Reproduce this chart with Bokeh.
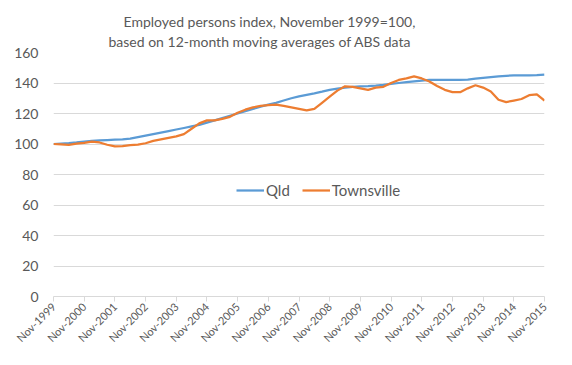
import math
from bokeh.plotting import figure
from bokeh.models import FixedTicker, Range1d, Title, Legend, LegendItem
from bokeh.embed import file_html
from bokeh.resources import INLINE

# months since Nov-1999 (quarterly samples)
months = list(range(0, 193, 3))
qld = [100, 100.3, 100.6, 101, 101.5, 102, 102.3, 102.6, 102.8, 103, 103.5, 104.5,
       105.5, 106.5, 107.5, 108.5, 109.5, 110.5, 111.5, 112.5, 114, 115.5, 117, 118.5,
       120, 121.5, 123, 124.5, 125.8, 127, 128.5, 130, 131.2, 132.2, 133.2, 134.3,
       135.5, 136.3, 137, 137.5, 137.8, 138, 138.3, 138.8, 139.5, 140, 140.5, 141,
       141.5, 142, 142, 142, 142, 142, 142.2, 142.8, 143.3, 143.8, 144.3, 144.7,
       145, 145, 145, 145.1, 145.5]
townsville = [100, 99.8, 99.4, 100.2, 100.8, 101.5, 101, 99.5, 98.5, 98.6, 99.3, 99.6,
              100.5, 102, 103, 104, 105, 106.5, 110, 113.5, 115.5, 115.5, 116.5, 117.8,
              120.5, 122.5, 124, 125, 125.5, 125.8, 125, 124, 123, 122, 123, 127,
              131, 135, 137.8, 137.5, 136.5, 135.5, 137, 137.5, 140, 142, 143, 144.3,
              143, 141, 138, 135.5, 134, 134, 136.5, 138.5, 137, 134.5, 129, 127.5,
              128.5, 129.5, 132, 132.5, 128.5]
tick_months = list(range(0, 193, 12))
tick_labels = ["Nov-%d" % y for y in range(1999, 2016)]
y_ticks = list(range(0, 161, 20))
title_lines = ["Employed persons index, November 1999=100,",
               "based on 12-month moving averages of ABS data"]
series_names = ["Qld", "Townsville"]

FONT = "Lato"
GREY = "#595959"
GRID = "#D9D9D9"

p = figure(width=570, height=362, output_backend="svg", toolbar_location=None,
           x_range=Range1d(0, 192), y_range=Range1d(0, 160),
           min_border_left=53, min_border_right=26, min_border_top=52,
           min_border_bottom=66)
p.outline_line_color = None
p.background_fill_color = "white"

r1 = p.line(months, qld, line_color="#5B9BD5", line_width=2.25)
r2 = p.line(months, townsville, line_color="#ED7D31", line_width=2.25)

p.xaxis.ticker = FixedTicker(ticks=tick_months)
p.xaxis.major_label_overrides = {m: l for m, l in zip(tick_months, tick_labels)}
p.xaxis.major_label_orientation = math.pi / 4
p.xaxis.axis_line_color = GRID
p.xaxis.major_tick_line_color = GRID
p.xaxis.major_tick_in = 0
p.xaxis.major_tick_out = 5
p.xaxis.minor_tick_line_color = None
p.xaxis.major_label_text_font = FONT
p.xaxis.major_label_text_font_size = "11px"
p.xaxis.major_label_text_color = GREY
p.xaxis.major_label_standoff = 3

p.yaxis.ticker = FixedTicker(ticks=y_ticks)
p.yaxis.axis_line_color = None
p.yaxis.major_tick_line_color = None
p.yaxis.minor_tick_line_color = None
p.yaxis.major_label_text_font = FONT
p.yaxis.major_label_text_font_size = "14px"
p.yaxis.major_label_text_color = GREY
p.yaxis.major_label_standoff = 9

p.xgrid.grid_line_color = None
p.ygrid.grid_line_color = GRID
p.ygrid.ticker = FixedTicker(ticks=y_ticks)

legend = Legend(items=[LegendItem(label=series_names[0], renderers=[r1]),
                       LegendItem(label=series_names[1], renderers=[r2])],
                orientation="horizontal", location=(183, 96),
                border_line_color=None, background_fill_alpha=0,
                padding=0, margin=0, spacing=12, glyph_width=28, label_standoff=2,
                label_text_font=FONT, label_text_font_size="15px",
                label_text_color=GREY)
p.add_layout(legend, "center")

offsets = [70, 55]
standoffs = [-4, 6]
for txt, off, so in reversed(list(zip(title_lines, offsets, standoffs))):
    p.add_layout(Title(text=txt, align="left", offset=off, standoff=so,
                       text_font=FONT, text_font_size="14px",
                       text_font_style="normal", text_color=GREY), "above")

open("out.html", "w").write(file_html(p, INLINE))
